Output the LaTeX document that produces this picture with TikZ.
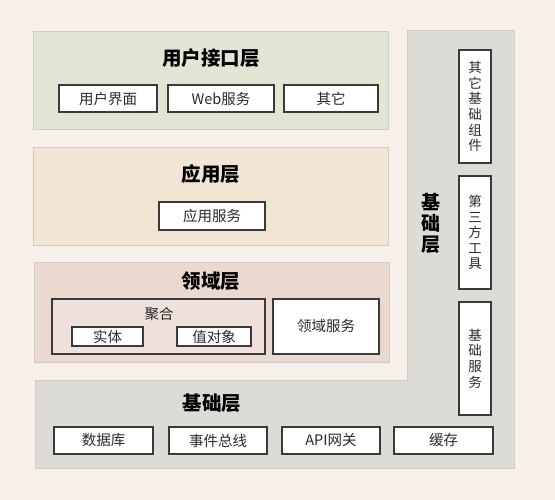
\documentclass[tikz,border=0pt]{standalone}
\usepackage{fontspec}
\setmainfont{Noto Sans CJK SC}
\definecolor{bgc}{HTML}{F6EFEA}
\definecolor{uic}{HTML}{E1E6D4}
\definecolor{appc}{HTML}{F3E5D4}
\definecolor{domc}{HTML}{EBD8CF}
\definecolor{aggc}{HTML}{EFE0DC}
\definecolor{basec}{HTML}{DDDBD6}
\definecolor{edgec}{HTML}{CFCBC6}
\definecolor{boxedge}{HTML}{3A3A3A}
\definecolor{txt}{HTML}{2A2A2A}
\begin{document}
\begin{tikzpicture}[x=1pt,y=-1pt,
  layer/.style={draw=edgec,line width=1pt},
  itembox/.style={draw=boxedge,fill=white,line width=1.1pt,text=txt,font=\fontsize{14.5}{16}\selectfont,inner sep=0pt},
  title/.style={font=\fontsize{19.5}{21}\selectfont\bfseries,text=black},
  vbox/.style={draw=boxedge,fill=white,line width=1.1pt,text=txt,font=\fontsize{13.5}{15.6}\selectfont,align=center,inner sep=0pt}]
\fill[bgc] (0,0) rectangle (555,500);
\useasboundingbox (0,0) rectangle (555,500);
% base layer L shape
\draw[layer,fill=basec] (407,31) -- (514,31) -- (514,468) -- (35,468) -- (35,380) -- (407,380) -- cycle;
% layers
\draw[layer,fill=uic] (33,32) rectangle (388,130);
\draw[layer,fill=appc] (33,148) rectangle (388,246);
\draw[layer,fill=domc] (34,263) rectangle (389,362);
% titles
\node[title] (tui) at (211,58) {用户接口层};
\node[title] (tapp) at (211,174) {应用层};
\node[title] (tdom) at (211,281) {领域层};
\node[title] (tbase) at (212,403) {基础层};
\node[title,align=center,font=\fontsize{19}{21}\selectfont\bfseries] (tvbase) at (431,223) {基\\础\\层};
% UI items
\node[itembox,minimum width=98pt,minimum height=27pt] (ui1) at (108,98.5) {用户界面};
\node[itembox,minimum width=106pt,minimum height=27pt] (ui2) at (221,98.5) {Web服务};
\node[itembox,minimum width=94pt,minimum height=27pt] (ui3) at (331,98.5) {其它};
% app
\node[itembox,minimum width=106pt,minimum height=28pt] (app1) at (212,216) {应用服务};
% domain
\draw[draw=boxedge,fill=aggc,line width=1.1pt] (52,299) rectangle (265,354);
\node[text=txt,font=\fontsize{14.5}{16}\selectfont] (agg) at (159,314) {聚合};
\node[itembox,minimum width=71pt,minimum height=19pt] (ent) at (107.5,336.5) {实体};
\node[itembox,minimum width=74pt,minimum height=19pt] (vo) at (214,336.5) {值对象};
\node[itembox,minimum width=106pt,minimum height=55pt] (dsvc) at (326,326.5) {领域服务};
% right vertical boxes
\node[vbox,minimum width=32pt,minimum height=113pt] (r1) at (475,106.5) {其\\它\\基\\础\\组\\件};
\node[vbox,minimum width=32pt,minimum height=113pt] (r2) at (475,232.5) {第\\三\\方\\工\\具};
\node[vbox,minimum width=32pt,minimum height=113pt] (r3) at (475,358.5) {基\\础\\服\\务};
% bottom boxes
\node[itembox,minimum width=99pt,minimum height=27pt] (b1) at (103.5,440.5) {数据库};
\node[itembox,minimum width=98pt,minimum height=27pt] (b2) at (218,440.5) {事件总线};
\node[itembox,minimum width=98pt,minimum height=27pt] (b3) at (331,440.5) {API网关};
\node[itembox,minimum width=99pt,minimum height=27pt] (b4) at (443.5,440.5) {缓存};
\end{tikzpicture}
\end{document}
